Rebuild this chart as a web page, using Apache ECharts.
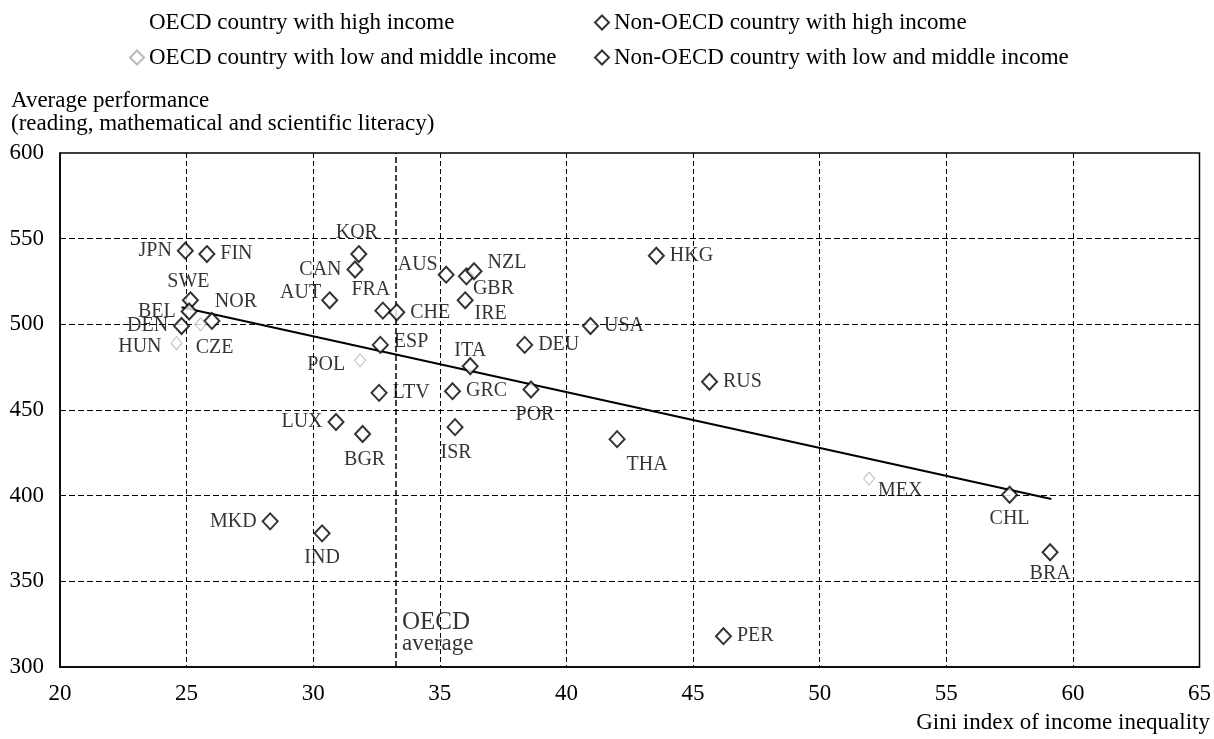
<!DOCTYPE html>
<html><head><meta charset="utf-8">
<script src="https://cdn.jsdelivr.net/npm/echarts@6/dist/echarts.min.js"></script>
<style>html,body{margin:0;padding:0;background:#fff}#c{width:1214px;height:739px}</style>
</head><body><div id="c"></div>
<script>
// ---- data ----
const oecdHighNames = ['JPN','FIN','SWE','BEL','DEN','NOR','AUT','CAN','KOR','FRA','CHE','ESP','LUX','AUS','GBR','NZL','IRE','USA','DEU','ITA','GRC','POR'];
const oecdHighGini  = [24.95,25.8,25.15,25.1,24.8,26.0,30.65,31.65,31.8,32.75,33.3,32.65,30.9,35.25,36.05,36.35,36.0,40.95,38.35,36.2,35.5,38.6];
const oecdHighScore = [543,541,514,507.5,499,502,514,532,541,508,507,488,443,529,528,531,514,499,488,475.5,461,462];

const oecdLowNames = ['HUN','CZE','POL','MEX'];
const oecdLowGini  = [24.6,25.55,31.85,51.95];
const oecdLowScore = [489,500,479,410];

const nonHighNames = ['HKG','ISR'];
const nonHighGini  = [43.55,35.6];
const nonHighScore = [540,440];

const nonLowNames = ['LTV','BGR','MKD','IND','RUS','THA','CHL','BRA','PER'];
const nonLowGini  = [32.6,31.95,28.3,30.35,45.65,42.0,57.5,59.1,46.2];
const nonLowScore = [460,436,385,378,466.5,433,400.5,367,318];

const trendGini  = [24.8, 59.15];
const trendScore = [510, 398];
const oecdAverageGini = 33.25;

const xTicks = {min:20, max:65, step:5};
const yTicks = {min:300, max:600, step:50};

const seriesNames = ['OECD country with high income','OECD country with low and middle income','Non-OECD country with high income','Non-OECD country with low and middle income'];

// ---- label placement (style) ----
const labelPlace = {
  JPN:['left'],FIN:['right'],SWE:['top',[-2,5]],BEL:['left'],DEN:['left'],NOR:['top',[24,5]],
  AUT:['left',[5,-8]],CAN:['left'],KOR:['top',[-2,3]],FRA:['top',[-12,3]],CHE:['right'],ESP:['right',[0,-3]],
  LUX:['left'],AUS:['left',[5,-10]],GBR:['right',[-7,12]],NZL:['right',[0,-8]],IRE:['right',[-4,13]],
  USA:['right'],DEU:['right'],ITA:['top',[0,8]],GRC:['right'],POR:['bottom',[4,1]],
  HUN:['left',[-4,4]],CZE:['bottom',[14,1]],POL:['left',[-4,4]],MEX:['right',[-2,12]],
  HKG:['right'],ISR:['bottom',[1,2]],LTV:['right'],BGR:['bottom',[2,2]],MKD:['left'],IND:['bottom'],
  RUS:['right'],THA:['bottom',[30,2]],CHL:['bottom'],BRA:['bottom',[0,-2]],PER:['right']
};
const FONT = '"Liberation Serif", "Times New Roman", serif';

function build(names, gx, gy){
  return names.map((n,i)=>{
    const p = labelPlace[n] || ['right'];
    return {name:n, value:[gx[i], gy[i]], label:{position:p[0], offset:p[1]||[0,0]}};
  });
}
function scatter(name, data, faint){
  return {
    type:'scatter', name, data, symbol:'diamond',
    symbolSize: faint ? [11,13] : [15,16],
    itemStyle: faint ? {color:'#fff', borderColor:'#aaa', borderWidth:1} : {color:'#fff', borderColor:'#000', borderWidth:2},
    label:{show:true, formatter:'{b}', color:'#000', fontFamily:FONT, fontSize:20, distance:5},
    emphasis:{disabled:true}, z:5
  };
}
const legendBase = {orient:'horizontal', itemWidth:14, itemHeight:14, selectedMode:false,
  textStyle:{fontFamily:FONT, fontSize:23, color:'#000'}};

const chart = echarts.init(document.getElementById('c'), null, {renderer:'canvas'});
chart.setOption({
  animation:false,
  backgroundColor:'#fff',
  grid:{left:60, right:14, top:153, bottom:72, show:true, borderColor:'#000', borderWidth:1.5, backgroundColor:'transparent'},
  legend:[
    Object.assign({}, legendBase, {left:124, top:6, data:[{name:seriesNames[0], itemStyle:{opacity:0}}]}),
    Object.assign({}, legendBase, {left:124, top:41, data:[seriesNames[1]]}),
    Object.assign({}, legendBase, {left:589, top:6, data:[seriesNames[2]]}),
    Object.assign({}, legendBase, {left:589, top:41, data:[seriesNames[3]]})
  ],
  xAxis:{type:'value', min:xTicks.min, max:xTicks.max, interval:xTicks.step,
    axisLine:{show:true, lineStyle:{color:'#000', width:1.5}}, axisTick:{show:false},
    axisLabel:{color:'#000', fontFamily:FONT, fontSize:23, margin:15},
    splitLine:{show:true, showMinLine:false, showMaxLine:false, lineStyle:{color:'#000', width:1, type:[5,3]}}},
  yAxis:{type:'value', min:yTicks.min, max:yTicks.max, interval:yTicks.step,
    axisLine:{show:true, lineStyle:{color:'#000', width:1.5}}, axisTick:{show:false},
    axisLabel:{color:'#000', fontFamily:FONT, fontSize:23, margin:16},
    splitLine:{show:true, showMinLine:false, showMaxLine:false, lineStyle:{color:'#000', width:1, type:[6,3]}}},
  graphic:[
    {type:'text', left:11, top:89, style:{text:'Average performance', font:'23px '+FONT, fill:'#000'}},
    {type:'text', left:11, top:112, style:{text:'(reading, mathematical and scientific literacy)', font:'23px '+FONT, fill:'#000'}},
    {type:'text', right:4, top:711, style:{text:'Gini index of income inequality', font:'23px '+FONT, fill:'#000'}}
  ],
  series:[
    {type:'line', name:'trend', data:trendGini.map((g,i)=>[g,trendScore[i]]), symbol:'none',
      lineStyle:{color:'#000', width:2}, silent:true, z:3,
      markLine:{symbol:'none', silent:true, label:{show:false},
        lineStyle:{color:'#000', width:1.5, type:[6,3]}, data:[{xAxis:oecdAverageGini}]}},
    {type:'scatter', name:'oecdavg', data:[[oecdAverageGini, 320]], symbolSize:1, silent:true,
      itemStyle:{color:'transparent'},
      label:{show:true, position:'right', distance:6, formatter:'{a|OECD}\n{b|average}',
        rich:{a:{fontFamily:FONT, fontSize:25, color:'#000', lineHeight:23}, b:{fontFamily:FONT, fontSize:23, color:'#000', lineHeight:21}}}},
    scatter(seriesNames[0], build(oecdHighNames, oecdHighGini, oecdHighScore), false),
    scatter(seriesNames[1], build(oecdLowNames, oecdLowGini, oecdLowScore), true),
    scatter(seriesNames[2], build(nonHighNames, nonHighGini, nonHighScore), false),
    scatter(seriesNames[3], build(nonLowNames, nonLowGini, nonLowScore), false)
  ]
});
</script></body></html>
